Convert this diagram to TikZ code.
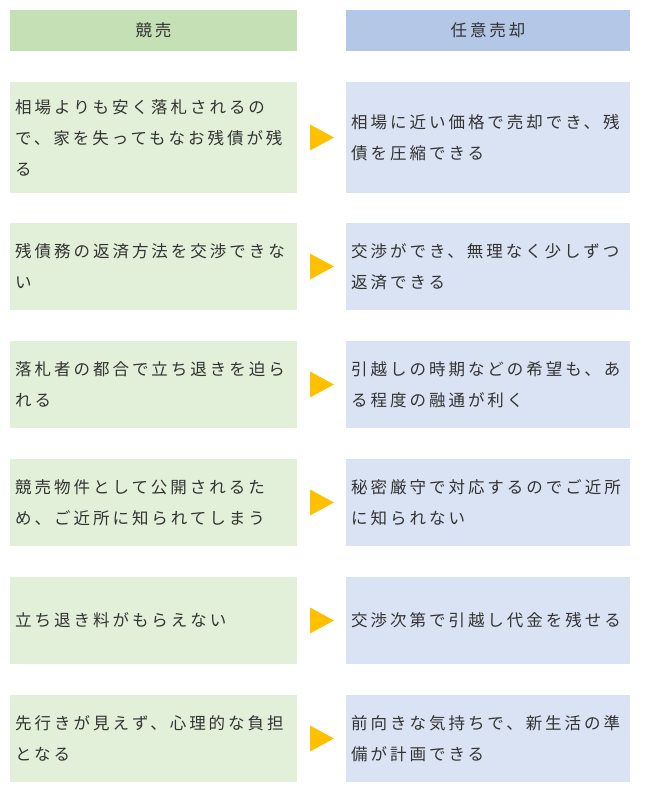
\documentclass[tikz,border=0pt]{standalone}
\usepackage{fontspec}
\newfontfamily\jpfont[LetterSpace=18]{Noto Sans CJK JP}
\definecolor{headL}{HTML}{C5E0B4}
\definecolor{headR}{HTML}{B4C7E7}
\definecolor{cellL}{HTML}{E2F0D9}
\definecolor{cellR}{HTML}{DAE3F3}
\definecolor{arrowC}{HTML}{FFC000}
\definecolor{txt}{HTML}{333333}
\begin{document}
\begin{tikzpicture}[x=1pt,y=-1pt,
    every node/.style={font=\jpfont\fontsize{16.5}{31}\selectfont, text=txt},
    cell/.style={anchor=west, align=left, inner sep=0pt},
    mark arrow/.style={fill=arrowC}
]
% Set manual bounding box
\useasboundingbox (0,0) rectangle (645,795);

% Headers
\fill[headL] (10,10) rectangle (297,51);
\node (hl) at (153.5,30.5) {競売};
\fill[headR] (346,10) rectangle (630,51);
\node (hr) at (488,30.5) {任意売却};

% Rows
\foreach \top/\bot/\ltext/\rtext [count=\i] in {
    82/193/{相場よりも安く落札されるの\\で、家を失ってもなお残債が残\\る}/{相場に近い価格で売却でき、残\\債を圧縮できる},
    223/310/{残債務の返済方法を交渉できな\\い}/{交渉ができ、無理なく少しずつ\\返済できる},
    341/428/{落札者の都合で立ち退きを迫ら\\れる}/{引越しの時期などの希望も、あ\\る程度の融通が利く},
    459/546/{競売物件として公開されるた\\め、ご近所に知られてしまう}/{秘密厳守で対応するのでご近所\\に知られない},
    577/664/{立ち退き料がもらえない}/{交渉次第で引越し代金を残せる},
    695/782/{先行きが見えず、心理的な負担\\となる}/{前向きな気持ちで、新生活の準\\備が計画できる}}
{
    \pgfmathsetmacro{\mid}{(\top+\bot)/2}
    \fill[cellL] (10,\top) rectangle (297,\bot);
    \fill[cellR] (346,\top) rectangle (630,\bot);
    \node[cell] (l\i) at (15,\mid) {\ltext};
    \node[cell] (r\i) at (351,\mid) {\rtext};
    \fill[mark arrow] (310,\mid-13) -- (334,\mid) -- (310,\mid+13) -- cycle;
}
\end{tikzpicture}
\end{document}
